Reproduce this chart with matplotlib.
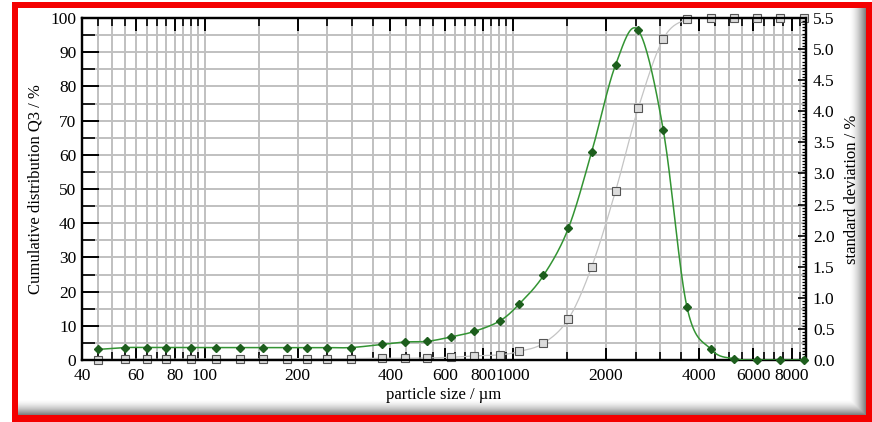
import numpy as np
import matplotlib
matplotlib.use("Agg")
import matplotlib.pyplot as plt
from matplotlib.ticker import FixedLocator, NullFormatter, MultipleLocator

# particle sizes (um) of the measurement points
sizes = [45, 55, 65, 75, 90, 109, 130, 155, 185, 215, 250, 298, 375, 447, 526,
         628, 748, 906, 1046, 1254, 1510, 1798, 2149, 2545, 3066, 3657, 4383,
         5189, 6180, 7354, 8790]
# cumulative distribution Q3 / %
q3 = [0.1, 0.2, 0.2, 0.2, 0.3, 0.3, 0.3, 0.3, 0.4, 0.4, 0.4, 0.4, 0.5, 0.5, 0.6,
      0.8, 1.2, 1.5, 2.5, 4.9, 12.0, 27.3, 49.5, 73.7, 93.9, 99.6, 99.9,
      100, 100, 100, 100]
# standard deviation / %
sd = [0.17, 0.20, 0.20, 0.20, 0.20, 0.20, 0.20, 0.20, 0.20, 0.20, 0.20, 0.20,
      0.25, 0.29, 0.30, 0.37, 0.46, 0.63, 0.90, 1.36, 2.12, 3.35, 4.75, 5.30,
      3.70, 0.86, 0.17, 0.02, 0.0, 0.0, 0.0]

xticks = [40, 60, 80, 100, 200, 400, 600, 800, 1000, 2000, 4000, 6000, 8000]
xminor = list(range(45, 100, 5)) + list(range(150, 1000, 50)) + list(range(1500, 9000, 500))
xminor = [v for v in xminor if v not in xticks]


def smooth(x, y, n=20):
    # catmull-rom curve through the points, in log-x space (for drawing the line)
    lx = np.log10(x)
    y = np.asarray(y, float)
    P = np.column_stack([lx, y])
    P = np.vstack([2 * P[0] - P[1], P, 2 * P[-1] - P[-2]])
    out = []
    t = np.linspace(0, 1, n, endpoint=False)[:, None]
    for i in range(1, len(P) - 2):
        p0, p1, p2, p3 = P[i - 1], P[i], P[i + 1], P[i + 2]
        c = 0.5 * ((2 * p1) + (-p0 + p2) * t + (2 * p0 - 5 * p1 + 4 * p2 - p3) * t ** 2
                   + (-p0 + 3 * p1 - 3 * p2 + p3) * t ** 3)
        out.append(c)
    out.append(P[-2][None, :])
    out = np.vstack(out)
    return 10 ** out[:, 0], out[:, 1]


W, H = 872, 422
fig = plt.figure(figsize=(W / 100, H / 100), dpi=100)
plt.rcParams['font.family'] = ['Liberation Serif', 'DejaVu Serif']

# frame: red border with grey shadow at bottom/right
bg = np.ones((H, W, 3))
yy, xx = np.mgrid[0:H, 0:W]
tb = np.clip((yy - 399) / 16.0, 0, 1)
tr = np.clip((xx - 848) / 17.0, 0, 1)
shade = 1 - 0.55 * np.maximum(tb, tr) ** 1.6
bg *= shade[:, :, None]
bg[(yy < 2) | (xx < 12)] = 1
band = ((yy >= 2) & (yy < 8) & (xx >= 12)) | ((xx >= 12) & (xx < 18) & (yy >= 2)) \
    | ((yy >= 415) & (xx >= 12)) | ((xx >= 865) & (yy >= 2))
bg[band] = [0.96, 0.0, 0.0]
bax = fig.add_axes([0, 0, 1, 1], zorder=-5)
bax.imshow(bg, aspect='auto', interpolation='nearest')
bax.axis('off')

ax = fig.add_axes([82 / W, 1 - 360 / H, 724 / W, 342 / H], zorder=2)
ax.set_facecolor('white')
ax2 = ax.twinx()

ax.set_xscale('log')
ax.set_xlim(40, 8900)
ax.set_ylim(0, 100)
ax2.set_ylim(0, 5.5)

ax.xaxis.set_major_locator(FixedLocator(xticks))
ax.xaxis.set_minor_locator(FixedLocator(xminor))
ax.set_xticklabels([str(v) for v in xticks])
ax.xaxis.set_minor_formatter(NullFormatter())
ax.yaxis.set_major_locator(MultipleLocator(10))
ax.yaxis.set_minor_locator(MultipleLocator(5))
ax2.yaxis.set_minor_locator(MultipleLocator(0.05))
ax2.set_yticks(np.arange(0, 5.51, 0.5))
ax2.set_yticklabels(['%.1f' % v for v in np.arange(0, 5.51, 0.5)])

ax.grid(which='both', color='#c0c0c0', linewidth=1.4)
ax.set_axisbelow(True)

ax.tick_params(axis='x', which='major', direction='in', length=9, width=1.4,
               top=True, labelsize=12.5, pad=6, colors='black')
ax.tick_params(axis='x', which='minor', direction='in', length=6, width=1.2, top=True)
ax.tick_params(axis='y', which='major', direction='in', length=12, width=1.4,
               labelsize=12.5, pad=4)
ax.tick_params(axis='y', which='minor', direction='in', length=9, width=1.2)
ax2.tick_params(axis='y', which='major', direction='in', length=6, width=1.2,
                labelsize=12.5, pad=5)
ax2.tick_params(axis='y', which='minor', direction='in', length=3, width=0.9)

for a in (ax, ax2):
    for s in a.spines.values():
        s.set_color('black')
        s.set_linewidth(1.6)

# cumulative distribution (grey squares)
gx, gy = smooth(sizes, q3)
ax.plot(gx, np.minimum(gy, 100), color='#c4c4c4', linewidth=0.9, zorder=3)
ax.plot(sizes, q3, linestyle='none', marker='s', markersize=5.5,
        markerfacecolor='#dcdcdc', markeredgecolor='#555555', markeredgewidth=0.8,
        clip_on=False, zorder=4)

# standard deviation (green diamonds)
sx, sy = smooth(sizes, sd)
ax2.plot(sx, np.maximum(sy, 0), color='#339433', linewidth=1.1, zorder=3)
ax2.plot(sizes, sd, linestyle='none', marker='D', markersize=4.5,
         markerfacecolor='#1d5e1d', markeredgecolor='#1d5e1d',
         clip_on=False, zorder=4)

ax.set_ylabel('Cumulative distribution Q3 / %', fontsize=12, labelpad=5)
ax2.set_ylabel('standard deviation / %', fontsize=12, labelpad=7)
ax.set_xlabel('particle size / \u00b5m', fontsize=12, labelpad=2)

fig.savefig('out.png', dpi=100)
